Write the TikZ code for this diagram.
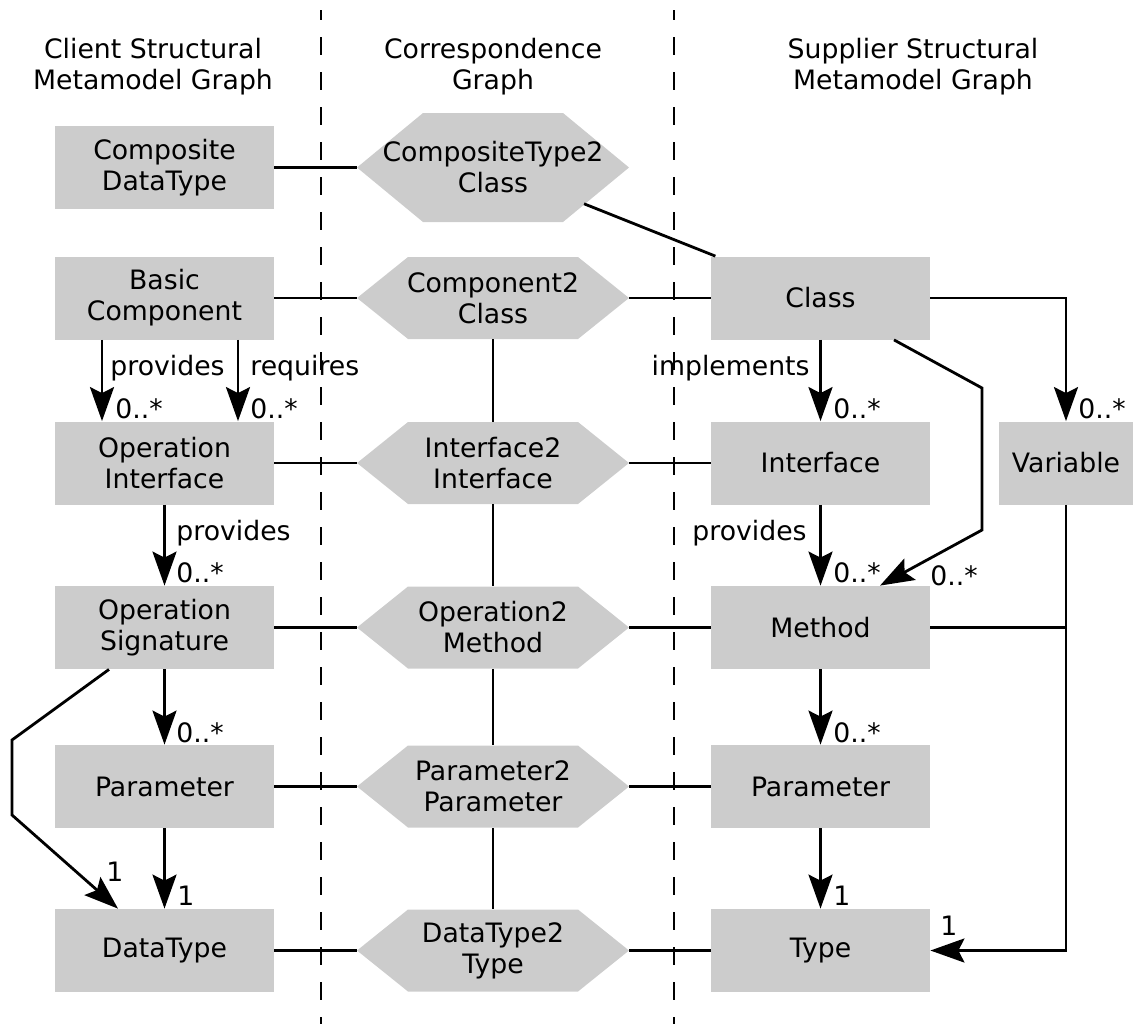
\documentclass[tikz,border=0pt]{standalone}
\usepackage{fontspec}
\setmainfont{DejaVu Sans}
\usetikzlibrary{arrows.meta,calc}
\definecolor{boxgray}{RGB}{204,204,204}
\begin{document}
\begin{tikzpicture}[x=0.5pt,y=-0.5pt,
  every node/.style={font=\fontsize{13.35pt}{15.5pt}\selectfont},
  box/.style={fill=boxgray, minimum width=109.5pt, minimum height=41.5pt,
    align=center, inner sep=0pt},
  hexa/.style 2 args={minimum width=136pt, minimum height=#1, align=center,
    inner sep=0pt,
    path picture={\fill[boxgray]
      (path picture bounding box.west)
      -- ([xshift=#2]path picture bounding box.north west)
      -- ([xshift=-#2]path picture bounding box.north east)
      -- (path picture bounding box.east)
      -- ([xshift=-#2]path picture bounding box.south east)
      -- ([xshift=#2]path picture bounding box.south west) -- cycle;}},
  head/.style={align=center, inner sep=0pt},
  lbl/.style={inner sep=0pt},
  link/.style={line width=1.4pt},
  arr/.style={line width=1.4pt, -{Stealth[length=17pt,width=12pt,inset=3pt]}},
  sep/.style={line width=0.6pt, dash pattern=on 9pt off 8.5pt, dash phase=4pt}]

\useasboundingbox (0,0) rectangle (1134,1024);

% column separators
\draw[sep] (321,10) -- (321,1024);
\draw[sep] (674,10) -- (674,1024);

% column headings
\node[head] (hclient) at (153,67) {Client Structural\\Metamodel Graph};
\node[head] (hcorr) at (493,67) {Correspondence\\Graph};
\node[head] (hsupp) at (913,67) {Supplier Structural\\Metamodel Graph};

% client metamodel
\node[box] (cdt) at (164.5,167.5) {Composite\\DataType};
\node[box] (bc) at (164.5,298) {Basic\\Component};
\node[box] (oi) at (164.5,463) {Operation\\Interface};
\node[box] (os) at (164.5,627.5) {Operation\\Signature};
\node[box] (lpar) at (164.5,786.5) {Parameter};
\node[box] (ldt) at (164.5,950.5) {DataType};

% correspondence nodes
\node[hexa={54.5pt}{33pt}] (h1) at (493,167.5) {CompositeType2\\Class};
\node[hexa={41pt}{25.5pt}] (h2) at (493,298) {Component2\\Class};
\node[hexa={41pt}{25.5pt}] (h3) at (493,463) {Interface2\\Interface};
\node[hexa={41pt}{25.5pt}] (h4) at (493,627.5) {Operation2\\Method};
\node[hexa={41pt}{25.5pt}] (h5) at (493,786.5) {Parameter2\\Parameter};
\node[hexa={41pt}{25.5pt}] (h6) at (493,950.5) {DataType2\\Type};

% supplier metamodel
\node[box] (cls) at (820.5,298) {Class};
\node[box] (intf) at (820.5,463) {Interface};
\node[box] (meth) at (820.5,627.5) {Method};
\node[box] (rpar) at (820.5,786.5) {Parameter};
\node[box] (typ) at (820.5,950.5) {Type};
\node[box, minimum width=67pt] (var) at (1066,463) {Variable};

% correspondence links
\draw[link] (cdt.east) -- (h1.west);
\draw[link] ($(h1)!0.278!(cls)$) -- (cls);
\foreach \l/\h/\r in {bc/h2/cls, oi/h3/intf, os/h4/meth, lpar/h5/rpar, ldt/h6/typ}{
  \draw[link] (\l.east) -- (\h.west);
  \draw[link] (\h.east) -- (\r.west);
}
\foreach \a/\b in {h2/h3, h3/h4, h4/h5, h5/h6}{
  \draw[link] (\a.south) -- (\b.north);
}

% client references
\draw[arr] ($(bc.south)+(-62.5,0)$) -- ($(oi.north)+(-62.5,0)$);
\draw[arr] ($(bc.south)+(73.5,0)$) -- ($(oi.north)+(73.5,0)$);
\draw[arr] (oi.south) -- (os.north);
\draw[arr] (os.south) -- (lpar.north);
\draw[arr] (lpar.south) -- (ldt.north);
\coordinate (lbendA) at (12,740);
\coordinate (lbendB) at (12,815);
\draw[arr] ($(os.south)+(-55.5,0)$) -- (lbendA) -- (lbendB) -- ($(ldt.north)+(-46.5,0)$);

\node[lbl, anchor=base west] (tprov1) at (110,375) {provides};
\node[lbl, anchor=base west] (tm1) at (115,418) {0..*};
\node[lbl, anchor=base west] (treq) at (250,375) {requires};
\node[lbl, anchor=base west] (tm2) at (250,418) {0..*};
\node[lbl, anchor=base west] (tprov2) at (176,540) {provides};
\node[lbl, anchor=base west] (tm3) at (176,582) {0..*};
\node[lbl, anchor=base west] (tm4) at (176,742) {0..*};
\node[lbl, anchor=base west] (tone1) at (106,881) {1};
\node[lbl, anchor=base west] (tone2) at (177,905) {1};

% supplier references
\draw[arr] (cls.south) -- (intf.north);
\draw[arr] (intf.south) -- (meth.north);
\draw[arr] (meth.south) -- (rpar.north);
\draw[arr] (rpar.south) -- (typ.north);
\coordinate (rbendA) at (982,388);
\coordinate (rbendB) at (982,530);
\draw[arr] ($(cls.south)+(73.5,0)$) -- (rbendA) -- (rbendB) -- ($(meth.north)+(59.5,0)$);
\draw[arr] (cls.east) -- (cls.east -| var.north) -- (var.north);
\coordinate (mjoin) at (var.south |- meth.east);
\draw[link] (meth.east) -- (mjoin);
\draw[arr] (var.south) -- (var.south |- typ.east) -- (typ.east);

\node[lbl, anchor=base east] (timpl) at (810,375) {implements};
\node[lbl, anchor=base west] (tm5) at (833,418) {0..*};
\node[lbl, anchor=base east] (tprov3) at (807,540) {provides};
\node[lbl, anchor=base west] (tm6) at (833,582) {0..*};
\node[lbl, anchor=base west] (tm7) at (930,585) {0..*};
\node[lbl, anchor=base west] (tm8) at (1078,418) {0..*};
\node[lbl, anchor=base west] (tm9) at (833,742) {0..*};
\node[lbl, anchor=base west] (tone3) at (833,905) {1};
\node[lbl, anchor=base west] (tone4) at (940,935) {1};

\end{tikzpicture}
\end{document}
